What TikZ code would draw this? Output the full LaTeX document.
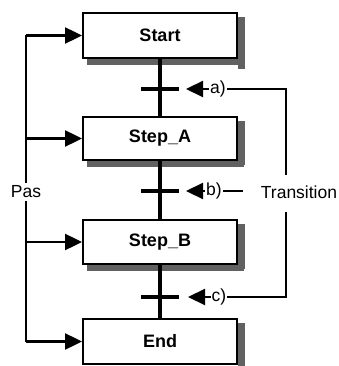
\documentclass[tikz,border=0pt]{standalone}
\usepackage{fontspec}
\setmainfont{Liberation Sans}
\usetikzlibrary{arrows.meta}
\tikzset{
  stepbox/.style={draw, line width=1.9pt, fill=white, minimum width=154pt, minimum height=45pt,
    inner sep=0pt, font=\bfseries\fontsize{18}{18}\selectfont},
  shadowstrip/.style={fill=black!62},
  flowline/.style={line width=3.6pt},
  barline/.style={line width=3.8pt},
  arrline/.style={line width=2.2pt, -{Triangle[length=17pt,width=16pt]}},
  thinline/.style={line width=1.6pt},
  lbl/.style={font=\fontsize{17.5}{17.5}\selectfont, inner sep=1pt}
}
\begin{document}
\begin{tikzpicture}[x=1pt,y=-1pt]
\useasboundingbox (0,0) rectangle (338,366);

\node[stepbox] (start) at (160,35.5) {Start};
\node[stepbox, minimum height=43pt] (stepa) at (160,138.5) {Step\_A};
\node[stepbox, minimum height=44pt] (stepb) at (160,242) {Step\_B};
\node[stepbox] (end) at (160,341.5) {End};

% shadows (right and bottom strips)
\fill[shadowstrip] (start.north east) ++(0,5) rectangle ++(7,52);
\fill[shadowstrip] (start.south west) ++(5,0) rectangle ++(157,6);
\fill[shadowstrip] (stepa.north east) ++(0,5) rectangle ++(7,44);
\fill[shadowstrip] (stepa.south west) ++(5,0) rectangle ++(157,6);
\fill[shadowstrip] (stepb.north east) ++(0,5) rectangle ++(7,45);
\fill[shadowstrip] (stepb.south west) ++(5,0) rectangle ++(157,6);
\fill[shadowstrip] (end.north east) ++(0,5) rectangle ++(7,46);

% vertical flow
\draw[flowline] (start.south) -- (stepa.north);
\draw[flowline] (stepa.south) -- (stepb.north);
\draw[flowline] (stepb.south) -- (end.north);

% transition bars
\coordinate (t1) at (160,89);
\coordinate (t2) at (160,191);
\coordinate (t3) at (160,297);
\draw[barline] ([xshift=-19pt]t1) -- ([xshift=19pt]t1);
\draw[barline] ([xshift=-19pt]t2) -- ([xshift=19pt]t2);
\draw[barline] ([xshift=-19pt]t3) -- ([xshift=19pt]t3);

% transition labels
\node[lbl] (la) at (218,89) {a)};
\node[lbl] (lb) at (214,191) {b)};
\node[lbl] (lc) at (219,297) {c)};
\coordinate (ta) at (186,89);
\coordinate (tb) at (186,191);
\coordinate (tc) at (188,297);
\draw[arrline] (la.west) -- (ta);
\draw[arrline] (lb.west) -- (tb);
\draw[arrline] (lc.west) -- (tc);

\node[lbl] (tr) at (299,192) {Transition};
\coordinate (r1) at (286,175);
\coordinate (r2) at (286,212);
\coordinate (bd) at (243,191);
\draw[thinline] (la.east) -| (r1);
\draw[thinline] (lb.east) -- (bd);
\draw[thinline] (lc.east) -| (r2);

% Pas
\node[lbl, inner sep=3pt] (pas) at (26,192) {Pas};
\draw[line width=2.2pt] (pas.north) -- (pas.north |- start.west);
\draw[arrline] (pas.north |- start.west) -- (start.west);
\draw[arrline] (pas.north |- stepa.west) -- (stepa.west);
\draw[line width=2.2pt] (pas.south) -- (pas.south |- end.west);
\draw[arrline] (pas.south |- stepb.west) -- (stepb.west);
\draw[arrline] (pas.south |- end.west) -- (end.west);
\end{tikzpicture}
\end{document}
